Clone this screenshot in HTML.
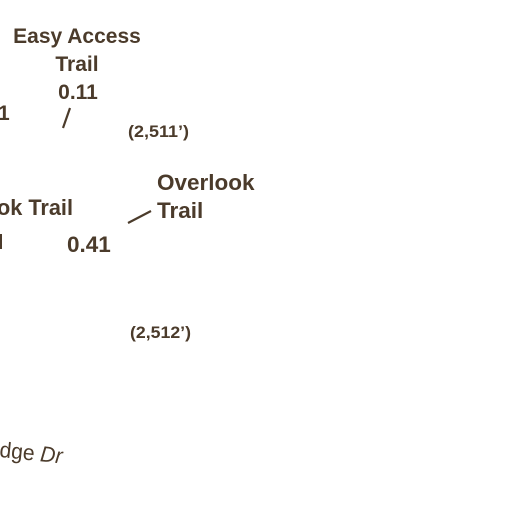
<!DOCTYPE html>
<html><head><meta charset="utf-8"><style>
html,body{margin:0;padding:0;background:#fff;width:512px;height:512px;overflow:hidden}
svg{display:block}
text{font-family:"Liberation Sans",sans-serif;fill:#4b3b2b;font-weight:bold}
</style></head><body>
<svg width="512" height="512" viewBox="0 0 512 512">
<text x="77" y="43" font-size="21" text-anchor="middle">Easy Access</text>
<text x="77" y="71" font-size="21" text-anchor="middle">Trail</text>
<text x="78" y="99" font-size="21" text-anchor="middle">0.11</text>
<text x="-2" y="120" font-size="21">1</text>
<line x1="70" y1="108" x2="63" y2="128" stroke="#4b3b2b" stroke-width="2.2"/>
<text x="128" y="137" font-size="16.5" textLength="61" lengthAdjust="spacingAndGlyphs">(2,511’)</text>
<text x="157" y="190" font-size="22.5">Overlook</text>
<text x="157" y="218" font-size="22.5">Trail</text>
<text x="-3" y="215" font-size="22" textLength="76" lengthAdjust="spacingAndGlyphs">ok Trail</text>
<rect x="0" y="234" width="2" height="15" fill="#4b3b2b"/>
<text x="67" y="252" font-size="22.5">0.41</text>
<line x1="128" y1="223" x2="151" y2="211" stroke="#4b3b2b" stroke-width="2.2"/>
<text x="130" y="338" font-size="16.5" textLength="61" lengthAdjust="spacingAndGlyphs">(2,512’)</text>
<text x="-1" y="457" font-size="22" style="font-weight:normal" transform="rotate(6 0 457)" textLength="63" lengthAdjust="spacingAndGlyphs">dge <tspan font-style="italic">Dr</tspan></text>
</svg>
</body></html>
